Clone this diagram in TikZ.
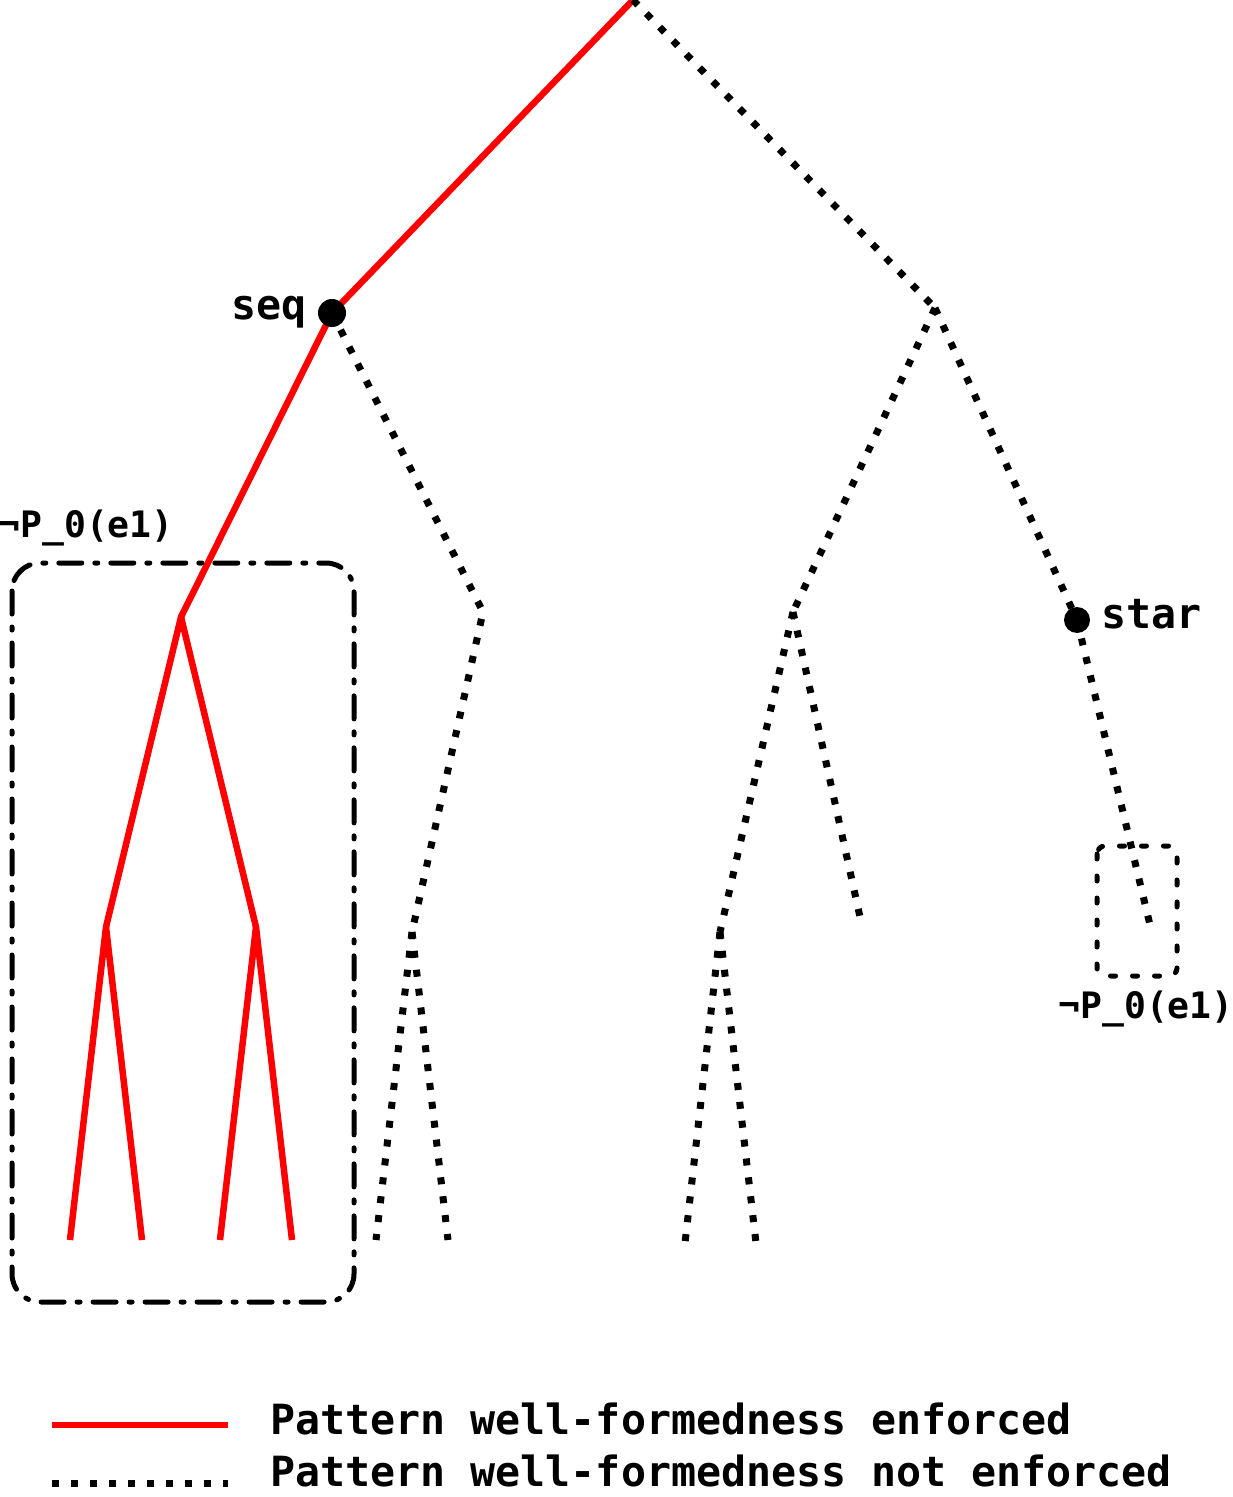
\documentclass[tikz,border=0pt]{standalone}
\usepackage{fontspec}
\newfontfamily\mono{DejaVu Sans Mono}
\begin{document}
\begin{tikzpicture}[x=0.5pt,y=-0.5pt,
  enf/.style={red, line width=3.25pt, line join=round},
  nenf/.style={black, line width=3.5pt, dash pattern=on 3.5pt off 6pt},
  dotnode/.style={circle, fill=black, inner sep=0pt, minimum size=#1},
  bigtxt/.style={font=\mono\bfseries\fontsize{20.8}{24}\selectfont, inner sep=0pt},
  smalltxt/.style={font=\mono\bfseries\fontsize{18.2}{22}\selectfont, inner sep=0pt},
  dashdotbox/.style={line width=2.5pt, dash pattern=on 11.5pt off 6.5pt on 1.5pt off 6.5pt, line cap=round, rounded corners=14pt},
  dashbox/.style={line width=2.5pt, dash pattern=on 2.5pt off 8.5pt, line cap=round, rounded corners=4pt}]
\useasboundingbox (0,0) rectangle (1232,1497);
% tree vertices
\coordinate (root) at (633,0);
\coordinate (seqc) at (332,313);
\coordinate (a) at (181,617);
\coordinate (a1) at (106,927);
\coordinate (a2) at (256,927);
\coordinate (a11) at (70,1240);
\coordinate (a12) at (142,1240);
\coordinate (a21) at (220,1240);
\coordinate (a22) at (292,1240);
\coordinate (b) at (483,612);
\coordinate (b1) at (412,932);
\coordinate (b11) at (376,1240);
\coordinate (b12) at (448,1240);
\coordinate (r) at (935,308);
\coordinate (c) at (793,612);
\coordinate (c1) at (720,932);
\coordinate (c2) at (862,926);
\coordinate (c11) at (685,1243);
\coordinate (c12) at (756,1243);
\coordinate (starc) at (1077,620);
\coordinate (s1) at (1150,925);
% enforced
\draw[enf] (root) -- (seqc) -- (a);
\draw[enf] (a1) -- (a) -- (a2);
\draw[enf] (a11) -- (a1) -- (a12);
\draw[enf] (a21) -- (a2) -- (a22);
% not enforced
\draw[nenf] (root) -- (r);
\draw[nenf] (seqc) -- (b) -- (b1);
\draw[nenf] (b1) -- (b11);
\draw[nenf] (b1) -- (b12);
\draw[nenf] (r) -- (c);
\draw[nenf] (r) -- (starc);
\draw[nenf] (c) -- (c1);
\draw[nenf] (c) -- (c2);
\draw[nenf] (c1) -- (c11);
\draw[nenf] (c1) -- (c12);
\draw[nenf] (starc) -- (s1);
% dots
\node[dotnode=14pt] (seq) at (seqc) {};
\node[dotnode=13pt] (star) at (starc) {};
\node[bigtxt, anchor=base west] (seqlbl) at (231,320) {seq};
\node[bigtxt, anchor=base west] (starlbl) at (1101,628) {star};
% boxes
\draw[dashdotbox] (12,563) rectangle (354,1302);
\node[smalltxt, anchor=base west] (lbl1) at (-2,537) {¬P\_0(e1)};
\draw[dashbox] (1097,846) rectangle (1177,976);
\node[smalltxt, anchor=base west] (lbl2) at (1058,1018) {¬P\_0(e1)};
% legend
\coordinate (l1a) at (52,1425);
\coordinate (l1b) at (228,1425);
\coordinate (l2a) at (52,1483);
\coordinate (l2b) at (228,1483);
\draw[enf] (l1a) -- (l1b);
\draw[nenf] (l2a) -- (l2b);
\node[bigtxt, anchor=base west] (leg1) at (270,1434) {Pattern well-formedness enforced};
\node[bigtxt, anchor=base west, text depth=0pt] (leg2) at (270,1486) {Pattern well-formedness not enforced};
\end{tikzpicture}
\end{document}
